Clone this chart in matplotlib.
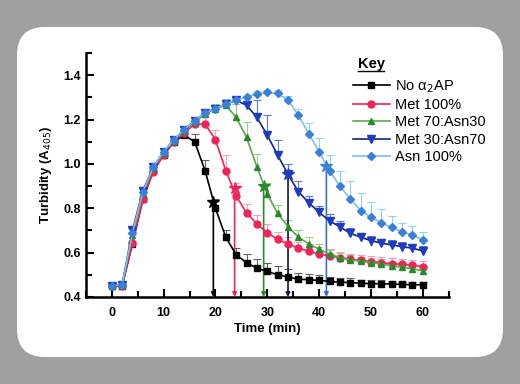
import numpy as np
import matplotlib
matplotlib.use("Agg")
import matplotlib.pyplot as plt
from matplotlib.patches import FancyBboxPatch
from matplotlib.transforms import IdentityTransform
from matplotlib.lines import Line2D

plt.rcParams['font.family'] = ['Liberation Sans', 'DejaVu Sans']

# time points (min), one reading every 2 min
time = np.arange(0, 62, 2)

no_ap = [0.45, 0.45, 0.64, 0.84, 0.97, 1.04, 1.10, 1.13, 1.10, 0.97, 0.80, 0.67, 0.59,
         0.555, 0.53, 0.515, 0.50, 0.49, 0.48, 0.478, 0.475, 0.47, 0.467, 0.465, 0.462,
         0.46, 0.46, 0.458, 0.457, 0.455, 0.455]
met100 = [0.45, 0.45, 0.645, 0.84, 0.965, 1.04, 1.10, 1.14, 1.18, 1.18, 1.11, 0.97, 0.855,
          0.78, 0.73, 0.69, 0.66, 0.64, 0.62, 0.607, 0.594, 0.585, 0.578, 0.57, 0.565,
          0.56, 0.555, 0.55, 0.547, 0.543, 0.537]
met70 = [0.45, 0.455, 0.68, 0.87, 0.98, 1.05, 1.105, 1.15, 1.19, 1.225, 1.25, 1.265, 1.21,
         1.12, 0.987, 0.864, 0.777, 0.717, 0.67, 0.64, 0.615, 0.594, 0.578, 0.568, 0.562,
         0.555, 0.55, 0.54, 0.535, 0.527, 0.518]
met30 = [0.45, 0.455, 0.70, 0.88, 0.985, 1.055, 1.11, 1.155, 1.195, 1.23, 1.25, 1.27, 1.287,
         1.265, 1.21, 1.13, 1.04, 0.953, 0.875, 0.825, 0.782, 0.743, 0.717, 0.687, 0.67,
         0.654, 0.643, 0.635, 0.627, 0.62, 0.608]
asn100 = [0.45, 0.455, 0.69, 0.875, 0.985, 1.055, 1.11, 1.155, 1.195, 1.23, 1.25, 1.27, 1.29,
          1.302, 1.317, 1.323, 1.318, 1.287, 1.22, 1.137, 1.055, 0.97, 0.90, 0.843, 0.79,
          0.76, 0.735, 0.714, 0.694, 0.68, 0.657]

# upper error bars (SD)
err_no_ap = [0, 0, 0, 0, 0, 0, 0.01, 0.02, 0.035, 0.05, 0.04, 0.03, 0.03, 0.04, 0.04, 0.04,
             0.04, 0.035, 0.03, 0.025, 0.025, 0.02, 0.02, 0.02, 0.015, 0.015, 0.015, 0.015,
             0.012, 0.012, 0.012]
err_met100 = [0, 0, 0, 0, 0, 0, 0, 0.01, 0.02, 0.03, 0.045, 0.07, 0.06, 0.04, 0.04, 0.04,
              0.035, 0.03, 0.03, 0.03, 0.03, 0.03, 0.025, 0.025, 0.025, 0.025, 0.025, 0.025,
              0.025, 0.025, 0.025]
err_met70 = [0, 0, 0, 0, 0, 0, 0, 0, 0.01, 0.01, 0.02, 0.03, 0.06, 0.07, 0.06, 0.05, 0.04,
             0.03, 0.03, 0.03, 0.025, 0.02, 0.02, 0.02, 0.02, 0.02, 0.02, 0.02, 0.02, 0.02,
             0.02]
err_met30 = [0, 0, 0.02, 0.01, 0, 0, 0, 0, 0, 0, 0.01, 0.01, 0.01, 0.02, 0.08, 0.09, 0.07,
             0.045, 0.05, 0.03, 0.03, 0.03, 0.025, 0.025, 0.02, 0.02, 0.02, 0.02, 0.02, 0.02,
             0.02]
err_asn100 = [0, 0, 0.02, 0.01, 0, 0, 0, 0, 0, 0, 0, 0, 0, 0.005, 0.01, 0.01, 0.015, 0.02,
              0.03, 0.05, 0.06, 0.07, 0.07, 0.08, 0.08, 0.07, 0.06, 0.05, 0.04, 0.04, 0.035]

# 50 % lysis times (min) and turbidity at those points
lysis_t = [19.6, 23.7, 29.3, 34.0, 41.4]
lysis_y = [0.83, 0.89, 0.90, 0.955, 0.99]

labels = ['No α$_2$AP', 'Met 100%', 'Met 70:Asn30', 'Met 30:Asn70', 'Asn 100%']
series = [no_ap, met100, met70, met30, asn100]
errors = [err_no_ap, err_met100, err_met70, err_met30, err_asn100]
markers = ['s', 'o', '^', 'v', 'D']
msizes = [4.5, 5, 4.5, 5.5, 4.2]
mcolors = ['#000000', '#f0245a', '#2a8a2a', '#1f3cc0', '#3a80d8']
lcolors = ['#000000', '#f0245a', '#5aaa4a', '#14247a', '#80c0ea']
ecolors = ['#606060', '#f7a0b8', '#9ad08a', '#5a78e0', '#90d4f0']
vcolors = ['#000000', '#f0245a', '#2a8a2a', '#10183a', '#3a70d0']

fig = plt.figure(figsize=(5.2, 3.84), dpi=100)
fig.patch.set_facecolor('#a0a0a0')
panel = FancyBboxPatch((17, 27), 486, 330, boxstyle='round,pad=0,rounding_size=28',
                       transform=IdentityTransform(), facecolor='white', edgecolor='none',
                       zorder=-10)
fig.add_artist(panel)

ax = fig.add_axes([0.165, 0.2266, 0.698, 0.635])
ax.set_facecolor('none')

for i in range(5):
    y = np.array(series[i])
    e = np.array(errors[i])
    m = e > 0
    ax.vlines(time[m], y[m], y[m] + e[m], color=ecolors[i], lw=0.8, zorder=2)
    ax.plot(time[m], y[m] + e[m], ls='none', marker='_', ms=6, mew=0.8,
            color=ecolors[i], zorder=2)

for i in range(5):
    ax.annotate('', xy=(lysis_t[i], 0.4), xytext=(lysis_t[i], lysis_y[i]),
                arrowprops=dict(arrowstyle='-|>', color=vcolors[i], lw=1.2,
                                mutation_scale=6, shrinkA=0, shrinkB=0), zorder=3)

for i in range(5):
    ax.plot(time, series[i], color=lcolors[i], lw=1.2, marker=markers[i], ms=msizes[i],
            mfc=mcolors[i], mec=mcolors[i], zorder=4 + i)
    ax.plot(lysis_t[i], lysis_y[i], marker='*', ms=9, color=mcolors[i], zorder=10)

ax.set_xlim(-5, 65)
ax.set_ylim(0.4, 1.5)
ax.set_xticks(np.arange(0, 61, 10))
ax.set_xticks(np.arange(-5, 66, 5), minor=True)
ax.set_yticks(np.arange(0.4, 1.41, 0.2))
ax.set_yticks(np.arange(0.4, 1.51, 0.1), minor=True)
ax.set_yticklabels(['%.1f' % v for v in np.arange(0.4, 1.41, 0.2)])
for s in ['top', 'right']:
    ax.spines[s].set_visible(False)
for s in ['left', 'bottom']:
    ax.spines[s].set_linewidth(1.8)
ax.tick_params(which='both', direction='in', width=1.5, labelsize=9)
ax.tick_params(which='major', length=6)
ax.tick_params(which='minor', length=4)
for lab in ax.get_xticklabels() + ax.get_yticklabels():
    lab.set_fontweight('bold')
ax.tick_params(axis='x', pad=7)
ax.set_xlabel('Time (min)', fontsize=9.5, fontweight='bold', labelpad=3)
ax.set_ylabel('Turbidity (A$_{405}$)', fontsize=9.5, fontweight='bold', labelpad=7)

handles = [Line2D([0], [0], color=lcolors[i], lw=1.2, marker=markers[i], ms=msizes[i],
                  mfc=mcolors[i], mec=mcolors[i]) for i in range(5)]
fig.legend(handles, labels, loc='upper left', bbox_to_anchor=(0.665, 0.815),
           frameon=False, fontsize=10.5, handlelength=2.5, handletextpad=0.35,
           labelspacing=0.22, borderpad=0)
fig.text(0.688, 0.822, 'Key', fontsize=10.5, fontweight='bold', va='baseline')
fig.add_artist(Line2D([0.688, 0.739], [0.814, 0.814], transform=fig.transFigure,
                      color='black', lw=1.0))

fig.savefig('out.png', dpi=100, facecolor=fig.get_facecolor())
